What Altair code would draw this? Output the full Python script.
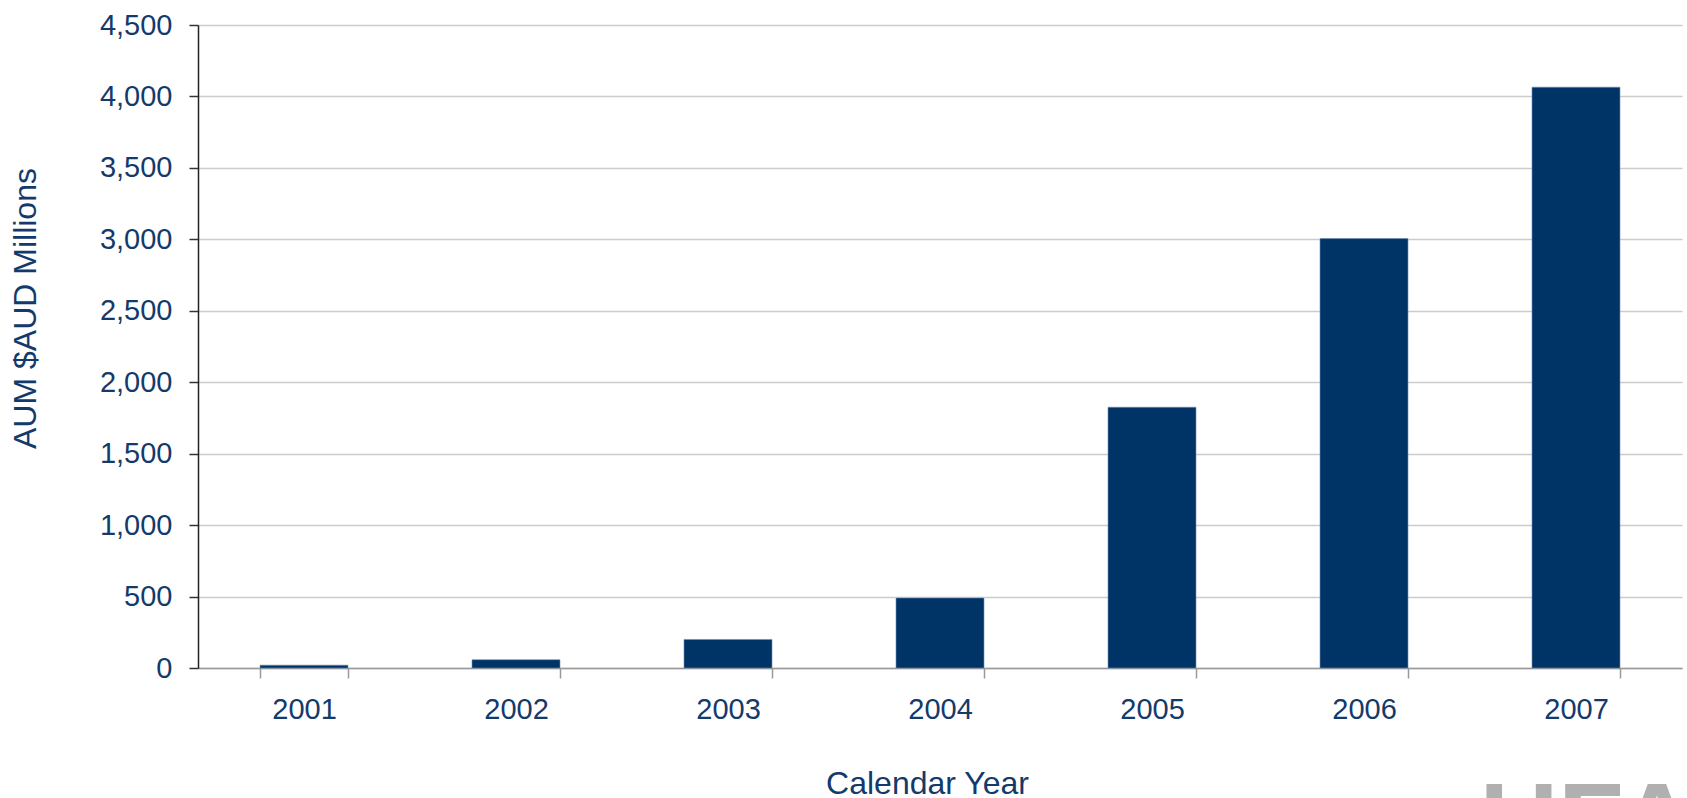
import altair as alt
import pandas as pd

years = ["2001", "2002", "2003", "2004", "2005", "2006", "2007"]
aum = [20, 58, 200, 490, 1825, 3005, 4065]
y_ticks = [0, 500, 1000, 1500, 2000, 2500, 3000, 3500, 4000, 4500]

df = pd.DataFrame({"year": years, "aum": aum})

TXT = "#143A6B"
FONT = "Liberation Sans"

bars = alt.Chart(df).mark_bar(color="#003366", stroke="#6d8fb5", strokeWidth=0.6).encode(
    x=alt.X(
        "year:N",
        sort=years,
        scale=alt.Scale(paddingInner=0.585, paddingOuter=0.2925),
        axis=alt.Axis(
            title="Calendar Year",
            labelAngle=0,
            labelFontSize=29,
            labelColor=TXT,
            labelFont=FONT,
            labelPadding=17,
            tickBand="extent",
            tickSize=10,
            tickColor="#999999",
            tickWidth=1.5,
            domainColor="#999999",
            domainWidth=1.5,
            grid=False,
            titleFontSize=32,
            titleFontWeight="normal",
            titleColor=TXT,
            titleFont=FONT,
            titleX=729,
            titleY=100,
        ),
    ),
    y=alt.Y(
        "aum:Q",
        scale=alt.Scale(domain=[0, 4500], nice=False),
        axis=alt.Axis(
            title="AUM $AUD Millions",
            values=y_ticks,
            format=",d",
            labelFontSize=29,
            labelColor=TXT,
            labelFont=FONT,
            labelPadding=17,
            tickSize=9,
            tickColor="#333333",
            tickWidth=1.5,
            domainColor="#222222",
            domainWidth=1.5,
            gridColor="#cccccc",
            gridWidth=1.5,
            titleFontSize=32,
            titleFontWeight="normal",
            titleColor=TXT,
            titleFont=FONT,
            titleX=-156,
            titleY=283,
            titleAnchor="middle",
        ),
    ),
)

wm = alt.Chart(pd.DataFrame({"t": ["UFA"]})).mark_text(
    font=FONT, fontSize=108, fontWeight="bold", color="#b0b0b0",
    align="left", baseline="top", clip=False,
).encode(
    text="t:N",
    x=alt.value(1282),
    y=alt.value(748),
)

chart = alt.layer(bars, wm).properties(
    width=1484,
    height=643,
    autosize=alt.AutoSizeParams(type="none"),
    padding={"left": 198, "top": 25, "right": 5, "bottom": 130},
    background="white",
).configure_view(stroke=None)

chart.save("out.html", embed_options={"renderer": "svg", "actions": False})
